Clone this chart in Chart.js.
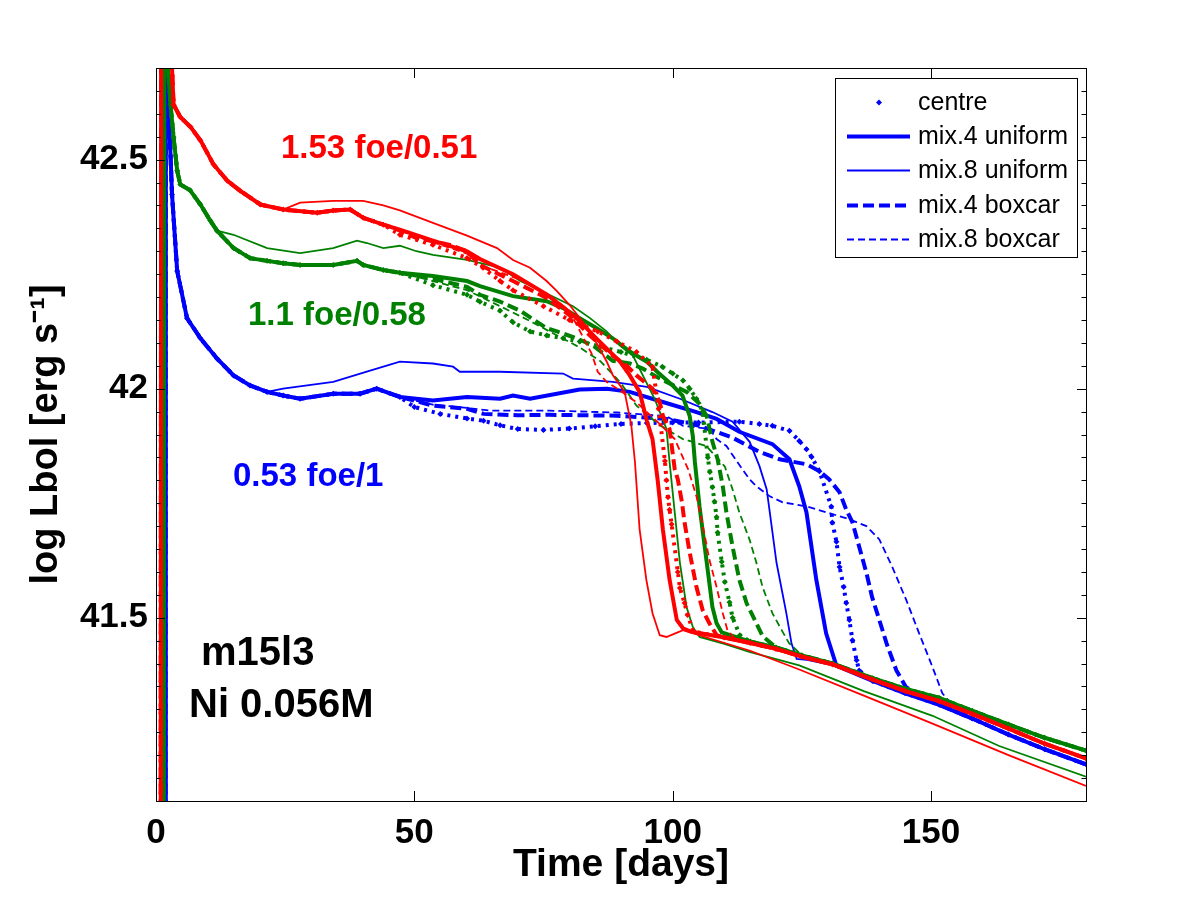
<!DOCTYPE html>
<html>
<head>
<meta charset="utf-8">
<script src="https://cdn.jsdelivr.net/npm/chart.js@4.4.0/dist/chart.umd.min.js"></script>
<style>
  html, body { margin: 0; padding: 0; background: #fff; }
  #chart-container { width: 1200px; height: 900px; }
</style>
</head>
<body>
<div id="chart-container"><canvas id="myChart" width="1200" height="900"></canvas></div>
<script>
// Values: [day, log Lbol]
const xTicks = [0, 50, 100, 150];
const yTicks = [41.5, 42, 42.5];
const legendLabels = ["centre", "mix.4 uniform", "mix.8 uniform", "mix.4 boxcar", "mix.8 boxcar"];

// 1.53 foe / 0.51 (red)
const redStart = [[0.9,40.8],[1.0,43.0],[2.6,42.76],[3.1,42.70],[3.4,42.62],[4.7,42.593],[6.7,42.571],[8.6,42.542],[11.1,42.49],[13.8,42.454],[16.3,42.432],[20.2,42.402],[24.6,42.391],[31.2,42.384],[34.3,42.389],[37.6,42.391],[40.1,42.373],[44.0,42.358]];
const redTail = [[103.5,41.47],[110,41.457],[115,41.445],[120,41.432],[125,41.415],[131,41.398],[138.7,41.365],[145,41.34],[151.6,41.318],[158,41.29],[165,41.258],[172,41.225],[180,41.193]];
const redCentre = [[47.2,42.336],[53.6,42.314],[60.2,42.285],[63.3,42.264],[66.6,42.235],[69.1,42.215],[75,42.18],[80,42.15],[85.5,42.125],[89.2,42.103],[93,42.08],[96.1,42.048],[97.3,41.956],[98.5,41.842],[98.8,41.80],[99.1,41.763],[99.4,41.736],[99.8,41.704],[101,41.60],[101.4,41.565],[102.3,41.532],[102.9,41.506],[104,41.47]];
const redMix4Uni = [[47.2,42.347],[53.6,42.323],[60.2,42.30],[62.7,42.283],[69.1,42.25],[75.6,42.206],[78.8,42.178],[82,42.148],[84.6,42.117],[87.2,42.088],[89.8,42.059],[91.7,42.029],[93.6,41.993],[95,41.93],[96.1,41.89],[97.1,41.80],[98.1,41.693],[99.4,41.583],[100.8,41.495],[102,41.477]];
const redMix8Uni = [[27.9,42.406],[34.3,42.41],[40.1,42.41],[44,42.40],[47.2,42.389],[53.6,42.362],[60.2,42.334],[66,42.307],[69.1,42.281],[72.4,42.264],[75.6,42.235],[77.6,42.213],[80.1,42.182],[83.7,42.13],[85.5,42.095],[87.2,42.06],[88.4,42.03],[90.7,41.993],[92,41.92],[92.7,41.84],[93.6,41.693],[94.9,41.583],[96.1,41.51],[97.5,41.462],[98.8,41.458],[100.5,41.466],[102,41.473],[108,41.452],[115,41.428],[124.5,41.387],[137,41.33],[150.3,41.269],[165,41.2],[180,41.133]];
const redMix4Box = [[46,42.351],[50.4,42.329],[56.9,42.314],[60.2,42.30],[62.7,42.27],[69.1,42.235],[75.6,42.198],[80.1,42.16],[84,42.116],[88.4,42.072],[91.1,42.05],[93,42.029],[96.1,42.0],[97.5,41.971],[98.1,41.941],[99.4,41.912],[100.4,41.824],[101,41.802],[101.8,41.752],[102.3,41.708],[103.3,41.642],[104.6,41.567],[105.8,41.517],[107.1,41.488],[108.5,41.462]];
const redMix8Box = [[47.2,42.345],[53.6,42.32],[60.2,42.295],[62.7,42.27],[70,42.24],[76,42.205],[80,42.17],[84.3,42.077],[85.5,42.037],[87.2,42.015],[89.8,41.996],[93,41.97],[97.5,41.923],[100.4,41.89],[103,41.824],[104.6,41.765],[105.6,41.715],[107.1,41.627],[108.5,41.567],[109.7,41.51],[110.6,41.473],[112,41.455]];

// 1.1 foe / 0.58 (green)
const greenStart = [[1.5,40.8],[1.6,43.0],[2.1,42.74],[2.8,42.621],[3.4,42.549],[4.1,42.476],[4.7,42.446],[6.6,42.433],[8.6,42.402],[10.5,42.367],[11.8,42.345],[15,42.307],[18.2,42.285],[21.5,42.279],[24.6,42.274],[27.9,42.27],[34.3,42.27],[38.9,42.279],[40.1,42.27],[44,42.259],[47.2,42.253]];
const greenTail = [[109.5,41.468],[115,41.448],[120,41.435],[125,41.418],[131,41.40],[138.7,41.368],[145,41.345],[151.6,41.325],[158,41.297],[165,41.267],[172,41.238],[180,41.21]];
const greenCentre = [[53.6,42.226],[60.2,42.205],[62.7,42.19],[66.6,42.17],[69.1,42.145],[72.4,42.125],[75.6,42.116],[78.8,42.11],[82,42.103],[86,42.092],[90,42.08],[95,42.063],[98,42.048],[100,42.033],[102,42.018],[103.3,42.0],[104.6,41.978],[105.8,41.95],[106.8,41.85],[107.2,41.818],[107.7,41.785],[108.1,41.754],[108.5,41.72],[108.7,41.686],[109.5,41.622],[110.1,41.578],[111,41.534],[111.6,41.5],[113,41.462]];
const greenMix4Uni = [[53.6,42.246],[60.2,42.235],[62.7,42.224],[69.1,42.202],[75.6,42.191],[78.8,42.176],[82,42.154],[85.3,42.132],[88.4,42.11],[91.7,42.081],[95,42.059],[97,42.037],[100,42.007],[101.9,41.985],[103.3,41.94],[103.9,41.897],[104.3,41.84],[105.2,41.743],[106.6,41.62],[107.7,41.523],[108.5,41.488]];
const greenMix8Uni = [[15,42.336],[21.5,42.307],[27.9,42.296],[34.3,42.307],[38.9,42.323],[40.8,42.318],[44,42.307],[47.2,42.312],[50.4,42.30],[53.6,42.292],[60.2,42.281],[66.6,42.264],[70.5,42.235],[74.3,42.215],[80.7,42.18],[84,42.154],[87.2,42.125],[89.8,42.094],[92.3,42.072],[96.5,41.978],[98.8,41.912],[99.4,41.84],[100.4,41.73],[101.4,41.62],[102.7,41.523],[103.9,41.48],[105.2,41.458],[110,41.443],[115,41.425],[124.5,41.396],[137,41.34],[150.3,41.286],[163.2,41.22],[180,41.153]];
const greenMix4Box = [[53.6,42.24],[60.2,42.222],[62.7,42.205],[66.6,42.19],[70.5,42.17],[75.6,42.132],[77.6,42.125],[81.4,42.11],[84.6,42.094],[88.4,42.061],[91.7,42.055],[94.2,42.044],[97.5,42.022],[102.7,41.993],[105.2,41.967],[106.6,41.94],[107.7,41.884],[108.7,41.846],[109.7,41.787],[110.4,41.73],[111.6,41.655],[112.9,41.583],[114.3,41.532],[116.2,41.488],[117.4,41.46]];
const greenMix8Box = [[53.6,42.235],[60.2,42.215],[66.6,42.18],[72,42.15],[77,42.12],[82,42.09],[86,42.06],[89.2,42.022],[90.3,42.007],[93,41.963],[97.5,41.92],[102,41.89],[106.5,41.875],[108.5,41.85],[110.1,41.83],[111.6,41.78],[112.9,41.73],[114.9,41.67],[116.2,41.62],[117.4,41.567],[119.3,41.51],[121.1,41.473],[122.5,41.445]];

// 0.53 foe / 1 (blue)
const blueStart = [[1.8,40.8],[1.9,43.0],[2.1,42.72],[3.1,42.424],[4.1,42.257],[6.0,42.154],[8.6,42.11],[11.8,42.066],[15,42.029],[18.2,42.007],[21.5,41.993],[24.6,41.985],[27.9,41.978],[34.3,41.989],[39.5,41.989],[42.7,42.0],[47.2,41.982]];
const blueTail = [[131.7,41.395],[138.7,41.362],[145,41.335],[151.6,41.31],[158,41.28],[165,41.245],[172,41.213],[180,41.18]];
const blueCentre = [[50,41.96],[55,41.945],[60.2,41.935],[63.4,41.93],[66.6,41.92],[70,41.912],[75,41.91],[80,41.913],[85,41.918],[90,41.923],[95,41.925],[100,41.926],[105,41.926],[112.9,41.928],[116.8,41.923],[119.3,41.919],[122.6,41.908],[124.5,41.886],[125.9,41.868],[126.9,41.851],[128.4,41.82],[130.7,41.743],[130.9,41.708],[131.7,41.666],[132.3,41.611],[133.1,41.567],[133.6,41.532],[134.2,41.495],[134.8,41.451],[135.6,41.407],[136.1,41.385]];
const blueMix4Uni = [[53.6,41.974],[60.2,41.982],[66.6,41.978],[69.1,41.985],[72.4,41.978],[82,41.998],[87.3,42.0],[91.7,41.993],[98.1,41.971],[104.6,41.949],[108.5,41.934],[112.9,41.906],[119.3,41.879],[122.6,41.846],[124.5,41.787],[125.9,41.73],[127.8,41.583],[129.7,41.466],[131.7,41.395]];
const blueMix8Uni = [[24.6,42.0],[34.3,42.015],[40.8,42.037],[47.2,42.059],[53.6,42.055],[57.5,42.048],[58.8,42.037],[66.6,42.037],[78.8,42.033],[80.7,42.022],[88.4,42.015],[95,42.004],[101.4,41.978],[107.7,41.949],[111.6,41.928],[114.9,41.884],[116.8,41.831],[118.2,41.78],[118.8,41.73],[120.1,41.62],[122,41.51],[123,41.444],[124,41.41],[126,41.408]];
const blueMix4Box = [[53.6,41.963],[60.2,41.956],[63.4,41.945],[70,41.942],[76.2,41.943],[89.2,41.941],[98.8,41.934],[105.2,41.919],[111.6,41.893],[116.8,41.862],[120.7,41.846],[125.9,41.835],[128.4,41.82],[130.3,41.802],[132.3,41.774],[133.6,41.736],[134.8,41.708],[136.1,41.655],[137.5,41.598],[138.6,41.545],[140,41.495],[141.4,41.444],[143.3,41.385],[145.2,41.348]];
const blueMix8Box = [[53.6,41.965],[60.2,41.958],[65,41.952],[76.2,41.952],[89.2,41.948],[98.8,41.94],[102,41.919],[107.2,41.912],[108.5,41.89],[110.4,41.875],[113.5,41.824],[114.9,41.802],[116.2,41.787],[118.8,41.765],[121.3,41.752],[125.9,41.743],[129.8,41.73],[134.2,41.715],[137.5,41.70],[140,41.671],[142.5,41.611],[145.2,41.539],[147.7,41.466],[150.3,41.392],[152.2,41.335],[154.5,41.305]];

const FONT = "'Liberation Sans', Arial, Helvetica, sans-serif";

// line styles of the five models, same as the legend
const styles = [
  { borderWidth: 4, borderDash: [3, 5], pointRadius: 3 },    // centre
  { borderWidth: 4, borderDash: [] },                        // mix.4 uniform
  { borderWidth: 1.8, borderDash: [] },                      // mix.8 uniform
  { borderWidth: 4, borderDash: [11, 5] },                   // mix.4 boxcar
  { borderWidth: 1.8, borderDash: [7, 4] },                  // mix.8 boxcar
];

// join the shared start and tail of an energy onto one model's values
function joinSeries(start, mid, tail) {
  const first = mid[0][0];
  const last = mid[mid.length - 1][0];
  return start.filter((p) => p[0] < first)
    .concat(mid, tail.filter((p) => p[0] > last))
    .map((p) => ({ x: p[0], y: p[1] }));
}

const groups = [
  { color: "#ff0000", start: redStart, tail: redTail,
    models: [redCentre, redMix4Uni, redMix8Uni, redMix4Box, redMix8Box] },
  { color: "#008000", start: greenStart, tail: greenTail,
    models: [greenCentre, greenMix4Uni, greenMix8Uni, greenMix4Box, greenMix8Box] },
  { color: "#0000ff", start: blueStart, tail: blueTail,
    models: [blueCentre, blueMix4Uni, blueMix8Uni, blueMix4Box, blueMix8Box] },
];

const datasets = [];
groups.forEach((g) => {
  g.models.forEach((mid, i) => {
    // the thin uniform models carry their own tail (red, green)
    const tail = i === 2 && g.color !== "#0000ff" ? [] : g.tail;
    const st = styles[i];
    datasets.push({
      label: legendLabels[i],
      data: joinSeries(g.start, mid, tail),
      borderColor: g.color,
      backgroundColor: g.color,
      borderWidth: st.borderWidth,
      borderDash: st.borderDash,
      borderCapStyle: "butt",
      pointRadius: st.pointRadius || 0,
      pointStyle: "rectRot",
      pointBorderWidth: 0,
      tension: 0,
      fill: false,
      clip: 0,
    });
  });
});

// MATLAB style box, inward ticks on all four sides
const axesPlugin = {
  id: "matlabAxes",
  afterDatasetsDraw(chart) {
    const { ctx, chartArea: a, scales: { x, y } } = chart;
    ctx.save();
    ctx.strokeStyle = "#000";
    ctx.lineWidth = 1;
    ctx.beginPath();
    xTicks.forEach((v) => {
      const px = Math.round(x.getPixelForValue(v)) + 0.5;
      ctx.moveTo(px, a.bottom); ctx.lineTo(px, a.bottom - 10);
      ctx.moveTo(px, a.top); ctx.lineTo(px, a.top + 10);
    });
    for (let k = 823; k <= 854; k++) {
      const py = Math.round(y.getPixelForValue(k / 20)) + 0.5;
      const len = k % 10 === 0 ? 9 : 4.5;
      ctx.moveTo(a.left, py); ctx.lineTo(a.left + len, py);
      ctx.moveTo(a.right, py); ctx.lineTo(a.right - len, py);
    }
    ctx.stroke();
    ctx.strokeRect(Math.round(a.left) + 0.5, Math.round(a.top) + 0.5,
      Math.round(a.right - a.left), Math.round(a.bottom - a.top));
    ctx.restore();
  },
};

// labels written inside the axes
const notesPlugin = {
  id: "notes",
  afterDatasetsDraw(chart) {
    const ctx = chart.ctx;
    const notes = [
      { text: "1.53 foe/0.51", x: 281, y: 158, color: "#ff0000", size: 33 },
      { text: "1.1 foe/0.58", x: 248, y: 325, color: "#008000", size: 33 },
      { text: "0.53 foe/1", x: 233, y: 486, color: "#0000ff", size: 33 },
      { text: "m15l3", x: 201, y: 665, color: "#000", size: 40 },
      { text: "Ni 0.056M", x: 189, y: 717, color: "#000", size: 40 },
    ];
    ctx.save();
    ctx.textBaseline = "alphabetic";
    ctx.textAlign = "left";
    notes.forEach((n) => {
      ctx.font = "bold " + n.size + "px " + FONT;
      ctx.fillStyle = n.color;
      ctx.fillText(n.text, n.x, n.y);
    });
    ctx.restore();
  },
};

// boxed legend in the top right corner, blue samples
const legendPlugin = {
  id: "boxLegend",
  afterDatasetsDraw(chart) {
    const ctx = chart.ctx;
    const x0 = 835, y0 = 78, w = 242, h = 179;
    ctx.save();
    ctx.fillStyle = "#fff";
    ctx.fillRect(x0, y0, w, h);
    ctx.strokeStyle = "#000";
    ctx.lineWidth = 1;
    ctx.strokeRect(x0 + 0.5, y0 + 0.5, w, h);
    ctx.font = "25px " + FONT;
    ctx.textBaseline = "middle";
    legendLabels.forEach((label, i) => {
      const st = styles[i];
      const yy = Math.round(102 + i * 34.2) + 0.5;
      ctx.strokeStyle = "#0000ff";
      ctx.fillStyle = "#0000ff";
      if (i === 0) {
        ctx.beginPath();
        ctx.moveTo(879, yy - 3); ctx.lineTo(882, yy); ctx.lineTo(879, yy + 3); ctx.lineTo(876, yy);
        ctx.closePath();
        ctx.fill();
      } else {
        ctx.lineWidth = st.borderWidth;
        ctx.setLineDash(st.borderDash);
        ctx.beginPath();
        ctx.moveTo(847, yy); ctx.lineTo(910, yy);
        ctx.stroke();
        ctx.setLineDash([]);
      }
      ctx.fillStyle = "#000";
      ctx.fillText(label, 918, yy + 1);
    });
    ctx.restore();
  },
};

const ctx = document.getElementById("myChart").getContext("2d");
const chart = new Chart(ctx, {
  type: "line",
  data: { datasets: datasets },
  options: {
    responsive: false,
    animation: false,
    events: [],
    layout: { padding: { left: 0, top: 68, right: 114, bottom: 0 } },
    plugins: { legend: { display: false }, tooltip: { enabled: false } },
    scales: {
      x: {
        type: "linear",
        min: 0,
        max: 180,
        afterBuildTicks: (s) => { s.ticks = xTicks.map((v) => ({ value: v })); },
        afterFit: (s) => { s.height = 99; },
        grid: { display: false, drawTicks: false },
        border: { display: false },
        ticks: { color: "#000", padding: 11, maxRotation: 0, autoSkip: false,
          font: { family: FONT, size: 35, weight: "bold" } },
        title: { display: true, text: "Time [days]", color: "#000",
          font: { family: FONT, size: 39, weight: "bold" }, padding: { top: 0, bottom: 11 } },
      },
      y: {
        type: "linear",
        min: 41.1,
        max: 42.7,
        afterBuildTicks: (s) => { s.ticks = yTicks.map((v) => ({ value: v })); },
        afterFit: (s) => { s.width = 156; },
        grid: { display: false, drawTicks: false },
        border: { display: false },
        ticks: { color: "#000", padding: 8, callback: (v) => String(v),
          font: { family: FONT, size: 35, weight: "bold" } },
        title: { display: true, text: "log Lbol [erg s\u207B\u00B9]", color: "#000",
          font: { family: FONT, size: 38, weight: "bold" }, padding: { top: 24, bottom: 0 } },
      },
    },
  },
  plugins: [axesPlugin, notesPlugin, legendPlugin],
});
</script>
</body>
</html>
